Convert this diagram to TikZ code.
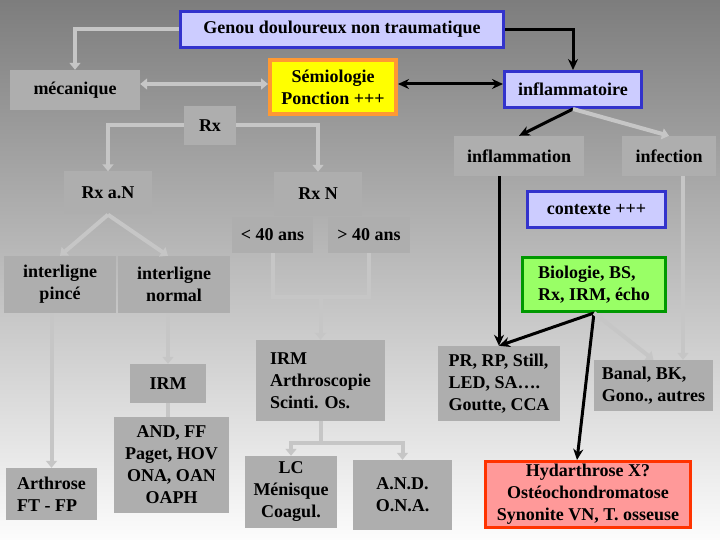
\documentclass[tikz,border=0pt]{standalone}
\usepackage{fontspec}
\setmainfont{Liberation Serif}
\usetikzlibrary{arrows.meta, positioning}

\definecolor{fondhaut}{HTML}{7D7D7D}
\definecolor{fondbas}{HTML}{FCFCFC}
\definecolor{grisboite}{HTML}{AEAEAE}
\definecolor{grisfleche}{HTML}{C6C6C6}
\definecolor{lavande}{HTML}{CCCCFF}
\definecolor{bleubord}{HTML}{3333CC}
\definecolor{jaune}{HTML}{FFFF00}
\definecolor{orange}{HTML}{FF9933}
\definecolor{vertclair}{HTML}{99FF66}
\definecolor{vertbord}{HTML}{009900}
\definecolor{rose}{HTML}{FF9999}
\definecolor{rougebord}{HTML}{FF3300}

\begin{document}
\begin{tikzpicture}[x=1pt, y=-1pt,
    boite/.style={rectangle, fill=grisboite, inner sep=0pt, align=center, font=\fontsize{18}{22}\selectfont\bfseries},
    bleue/.style={boite, fill=lavande, draw=bleubord, line width=3pt},
    gris/.style={draw=grisfleche, line width=4pt, -{Triangle[length=7pt, width=11pt]}},
    noir/.style={draw=black, line width=3pt, -{Stealth[length=11pt, width=10pt]}}
]
    \useasboundingbox (0,0) rectangle (720,540);
    \shade[top color=fondhaut, bottom color=fondbas] (0,0) rectangle (720,540);

    % haut
    \node[bleue, minimum width=323pt, minimum height=36pt] (titre) at (342,29.5) {Genou douloureux non traumatique};
    \node[boite, minimum width=130pt, minimum height=40pt] (meca) at (75,90) {mécanique};
    \node[boite, fill=jaune, draw=orange, line width=4pt, minimum width=126pt, minimum height=54pt] (semio) at (333,87) {Sémiologie\\ Ponction +++};
    \node[bleue, minimum width=137pt, minimum height=36pt] (inflam) at (573,89.5) {inflammatoire};
    \node[boite, minimum width=52pt, minimum height=39pt] (rx) at (210,125.5) {Rx};

    % branche mecanique
    \node[boite, minimum width=88pt, minimum height=43pt] (rxan) at (108,193) {Rx a.N};
    \node[boite, minimum width=88pt, minimum height=44pt] (rxn) at (318,194) {Rx N};
    \node[boite, minimum width=81pt, minimum height=36pt] (moins) at (272.5,235) {< 40 ans};
    \node[boite, minimum width=82pt, minimum height=36pt] (plus) at (369,235) {> 40 ans};
    \node[boite, minimum width=112pt, minimum height=57pt] (pince) at (60,284.5) {interligne\\ pincé};
    \node[boite, minimum width=112pt, minimum height=57pt] (normal) at (174,284.5) {interligne\\ normal};
    \node[boite, minimum width=76pt, minimum height=39pt] (irm) at (168,383.5) {IRM};
    \node[boite, minimum width=115pt, minimum height=96pt] (andff) at (171.5,465) {AND, FF\\ Paget, HOV\\ ONA, OAN\\ OAPH};
    \node[boite, align=left, minimum width=129pt, minimum height=81pt] (irmarthro) at (320.5,380.5) {IRM\\ Arthroscopie\\ Scinti. Os.};
    \node[boite, minimum width=92pt, minimum height=72pt] (lc) at (291,492) {LC\\ Ménisque\\ Coagul.};
    \node[boite, minimum width=99pt, minimum height=70pt] (andona) at (402.5,495) {A.N.D.\\ O.N.A.};
    \node[boite, align=left, minimum width=91pt, minimum height=52pt] (arthrose) at (51.5,494) {Arthrose\\ FT - FP};

    % branche inflammatoire
    \node[boite, minimum width=130pt, minimum height=40pt] (inflammation) at (519,156) {inflammation};
    \node[boite, minimum width=94pt, minimum height=40pt] (infection) at (669,156) {infection};
    \node[bleue, minimum width=138pt, minimum height=36pt] (contexte) at (596.5,209.5) {contexte +++};
    \node[boite, align=left, fill=vertclair, draw=vertbord, line width=3pt, minimum width=143pt, minimum height=54pt] (bio) at (594,284.5) {Biologie, BS,\\ Rx, IRM, écho};
    \node[boite, align=left, minimum width=122pt, minimum height=75pt] (pr) at (499,383.5) {PR, RP, Still,\\ LED, SA\dots.\\ Goutte, CCA};
    \node[boite, align=left, minimum width=119pt, minimum height=51pt] (banal) at (653.5,385.5) {Banal, BK,\\ Gono., autres};
    \node[boite, fill=rose, draw=rougebord, line width=3pt, minimum width=205pt, minimum height=66pt] (hydar) at (588,494.5) {Hydarthrose X?\\ Ostéochondromatose\\ Synonite VN, T. osseuse};

    % fleches
    \draw[gris] (titre.west) -| (meca.north);
    \draw[noir] (titre.east) -| (inflam.north);
    \draw[gris, {Triangle[length=7pt, width=11pt]}-{Triangle[length=7pt, width=11pt]}] ([yshift=6pt]meca.east) -- ([yshift=6pt]meca.east -| semio.west);
    \draw[noir, {Stealth[length=11pt, width=10pt]}-{Stealth[length=11pt, width=10pt]}] ([yshift=6pt]meca.east -| semio.east) -- ([yshift=6pt]meca.east -| inflam.west);
    \draw[gris] (rx.west) -| (rxan.north);
    \draw[gris] (rx.east) -| (rxn.north);
    \draw[gris] (rxan.south) -- (pince.north);
    \draw[gris] (rxan.south) -- ([xshift=-6pt]normal.north);
    \coordinate (jonction) at (320.5,297);
    \draw[draw=grisfleche, line width=4pt] (moins.south) |- (jonction) -| (plus.south);
    \draw[gris] (jonction) -- (irmarthro.north);
    \draw[gris] (arthrose.north |- pince.south) -- (arthrose.north);
    \draw[gris] (irm.north |- normal.south) -- (irm.north);
    \draw[draw=grisfleche, line width=4pt] (irm.south) -- (irm.south |- andff.north);
    \coordinate (fourche) at (320.5,443);
    \draw[draw=grisfleche, line width=4pt] (irmarthro.south) -- (fourche);
    \draw[gris] (fourche) -| (lc.north);
    \draw[gris] (fourche) -| (andona.north);
    \draw[noir] (inflam.south) -- (inflammation.north);
    \draw[gris] (inflam.south) -- (infection.north);
    \draw[noir] (pr.north |- inflammation.south) -- (pr.north);
    \draw[noir] (bio.south) -- (pr.north);
    \draw[noir] (bio.south) -- ([xshift=-11pt]hydar.north);
    \draw[gris] (bio.south) -- (banal.north);
    \draw[gris] ([xshift=14pt]infection.south) -- ([xshift=14pt]infection.south |- banal.north);
\end{tikzpicture}
\end{document}
